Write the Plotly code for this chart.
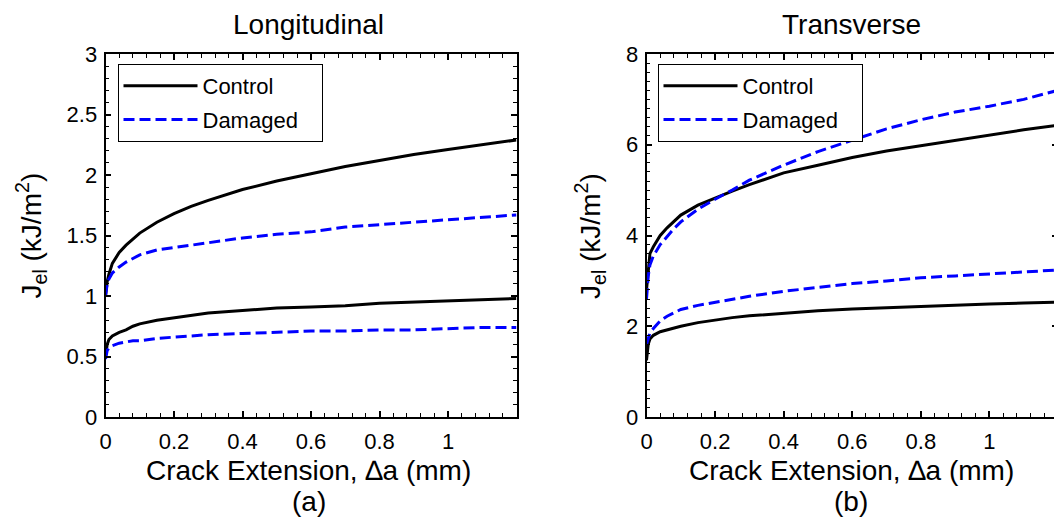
import plotly.graph_objects as go

# ---------------- data ----------------
crack_ext = [0, 0.005, 0.01, 0.02, 0.04, 0.06, 0.08, 0.1, 0.15, 0.2, 0.25, 0.3,
             0.4, 0.5, 0.6, 0.7, 0.8, 0.9, 1.0, 1.1, 1.2]

long_control_hi = [1.0, 1.12, 1.18, 1.27, 1.36, 1.42, 1.47, 1.52, 1.61, 1.68, 1.74, 1.79,
                   1.88, 1.95, 2.01, 2.07, 2.12, 2.17, 2.21, 2.25, 2.29]
long_damaged_hi = [1.0, 1.10, 1.14, 1.19, 1.24, 1.28, 1.31, 1.34, 1.38, 1.40, 1.42, 1.44,
                   1.48, 1.51, 1.53, 1.57, 1.59, 1.61, 1.63, 1.65, 1.67]
long_control_lo = [0.5, 0.60, 0.64, 0.67, 0.70, 0.72, 0.75, 0.77, 0.80, 0.82, 0.84, 0.86,
                   0.88, 0.90, 0.91, 0.92, 0.94, 0.95, 0.96, 0.97, 0.98]
long_damaged_lo = [0.48, 0.55, 0.57, 0.59, 0.61, 0.62, 0.63, 0.63, 0.65, 0.66, 0.67, 0.68,
                   0.69, 0.70, 0.71, 0.71, 0.72, 0.72, 0.73, 0.74, 0.74]

trans_control_hi = [2.8, 3.3, 3.6, 3.75, 4.0, 4.17, 4.32, 4.45, 4.67, 4.83, 4.98, 5.12,
                    5.38, 5.55, 5.72, 5.86, 5.98, 6.10, 6.22, 6.33, 6.43]
trans_damaged_hi = [2.6, 3.1, 3.35, 3.55, 3.8, 3.98, 4.15, 4.30, 4.58, 4.80, 5.0, 5.22,
                    5.55, 5.85, 6.10, 6.35, 6.55, 6.72, 6.85, 7.0, 7.2]
trans_control_lo = [1.25, 1.6, 1.72, 1.80, 1.88, 1.92, 1.96, 2.0, 2.08, 2.14, 2.19, 2.23,
                    2.29, 2.34, 2.38, 2.41, 2.44, 2.47, 2.49, 2.51, 2.53]
trans_damaged_lo = [1.6, 1.75, 1.85, 1.95, 2.12, 2.22, 2.30, 2.37, 2.46, 2.53, 2.60, 2.66,
                    2.77, 2.86, 2.94, 3.0, 3.07, 3.11, 3.15, 3.20, 3.24]

x_ticks = [0, 0.2, 0.4, 0.6, 0.8, 1.0]
x_tick_text = ["0", "0.2", "0.4", "0.6", "0.8", "1"]
panel_titles = ["Longitudinal", "Transverse"]
panel_labels = ["(a)", "(b)"]
series_names = ["Control", "Damaged\u00a0\u00a0\u00a0"]
x_title = "Crack Extension, \u2206a (mm)"
y_title = "J<sub>el</sub> (kJ/m<sup>2</sup>)"

# ---------------- layout helpers ----------------
W, H = 1062, 517
OFF = 8  # page body margin of the browser
FONT = "Arial, 'Liberation Sans', sans-serif"
BLUE = "#0000ff"


def px_x(p):
    return (p - OFF) / W


def px_y(p):
    return (H - (p - OFF)) / H


fig = go.Figure()

control_style = dict(color="black", width=3)
damaged_style = dict(color=BLUE, width=3, dash="11px,5px")

panels = [
    ("x", "y", "legend", [long_control_hi, long_control_lo], [long_damaged_hi, long_damaged_lo]),
    ("x2", "y2", "legend2", [trans_control_hi, trans_control_lo], [trans_damaged_hi, trans_damaged_lo]),
]

for xa, ya, lg, ctrl, dmg in panels:
    for i, yv in enumerate(ctrl):
        fig.add_trace(go.Scatter(x=crack_ext, y=yv, mode="lines", line=control_style,
                                 name=series_names[0], legendgroup=lg + "c",
                                 showlegend=(i == 0), legend=lg, xaxis=xa, yaxis=ya))
    for i, yv in enumerate(dmg):
        fig.add_trace(go.Scatter(x=crack_ext, y=yv, mode="lines", line=damaged_style,
                                 name=series_names[1], legendgroup=lg + "d",
                                 showlegend=(i == 0), legend=lg, xaxis=xa, yaxis=ya))

common_axis = dict(
    showline=True, linecolor="black", linewidth=1.8, mirror="ticks",
    ticks="inside", ticklen=6, tickwidth=1.6, tickcolor="black",
    showgrid=False, zeroline=False, automargin=False,
    tickfont=dict(family=FONT, size=22, color="black"),
)

left_dom = [px_x(105.5), px_x(516.5)]
right_dom = [px_x(646.5), px_x(1058)]
y_dom = [px_y(417), px_y(54)]

xaxis_cfg = dict(common_axis, range=[0, 1.2], tickmode="array", tickvals=x_ticks,
                 ticktext=x_tick_text, ticklabelstandoff=4,
                 minor=dict(tickmode="linear", tick0=0, dtick=0.04, ticks="inside",
                            ticklen=4, tickwidth=1.2, tickcolor="black"))
y_minor = dict(ticks="inside", ticklen=4, tickwidth=1.2, tickcolor="black")

legend_common = dict(xanchor="left", yanchor="top", bgcolor="white",
                     bordercolor="black", borderwidth=1,
                     font=dict(family=FONT, size=22, color="black"),
                     itemwidth=74, tracegroupgap=2)

fig.update_layout(
    width=W, height=H,
    margin=dict(l=0, r=0, t=0, b=0, autoexpand=False),
    paper_bgcolor="white", plot_bgcolor="white",
    font=dict(family=FONT, color="black"),
    xaxis=dict(xaxis_cfg, domain=left_dom, anchor="y"),
    xaxis2=dict(xaxis_cfg, domain=right_dom, anchor="y2"),
    yaxis=dict(common_axis, domain=y_dom, anchor="x", range=[0, 3], dtick=0.5, tick0=0,
               ticklabelstandoff=2, minor=dict(y_minor, dtick=0.1)),
    yaxis2=dict(common_axis, domain=y_dom, anchor="x2", range=[0, 8], dtick=2, tick0=0,
                ticklabelstandoff=2, minor=dict(y_minor, dtick=0.2)),
    legend=dict(legend_common, x=px_x(117.5), y=px_y(64)),
    legend2=dict(legend_common, x=px_x(657.5), y=px_y(64)),
    showlegend=True,
)

annots = []
for cx, title, lab in [(308.5, panel_titles[0], panel_labels[0]),
                       (851, panel_titles[1], panel_labels[1])]:
    annots.append(dict(x=px_x(cx), y=px_y(25), text=title, showarrow=False,
                       xref="paper", yref="paper", xanchor="center", yanchor="middle",
                       font=dict(family=FONT, size=28, color="black")))
    annots.append(dict(x=px_x(cx), y=px_y(470), text=x_title, showarrow=False,
                       xref="paper", yref="paper", xanchor="center", yanchor="middle",
                       font=dict(family=FONT, size=28, color="black")))
    annots.append(dict(x=px_x(cx), y=px_y(501), text=lab, showarrow=False,
                       xref="paper", yref="paper", xanchor="center", yanchor="middle",
                       font=dict(family=FONT, size=28, color="black")))
for cx in [31.5, 590]:
    annots.append(dict(x=px_x(cx), y=px_y(236), text=y_title, showarrow=False,
                       textangle=-90, xref="paper", yref="paper",
                       xanchor="center", yanchor="middle",
                       font=dict(family=FONT, size=28, color="black")))
fig.update_layout(annotations=annots)

fig.write_html("out.html")
